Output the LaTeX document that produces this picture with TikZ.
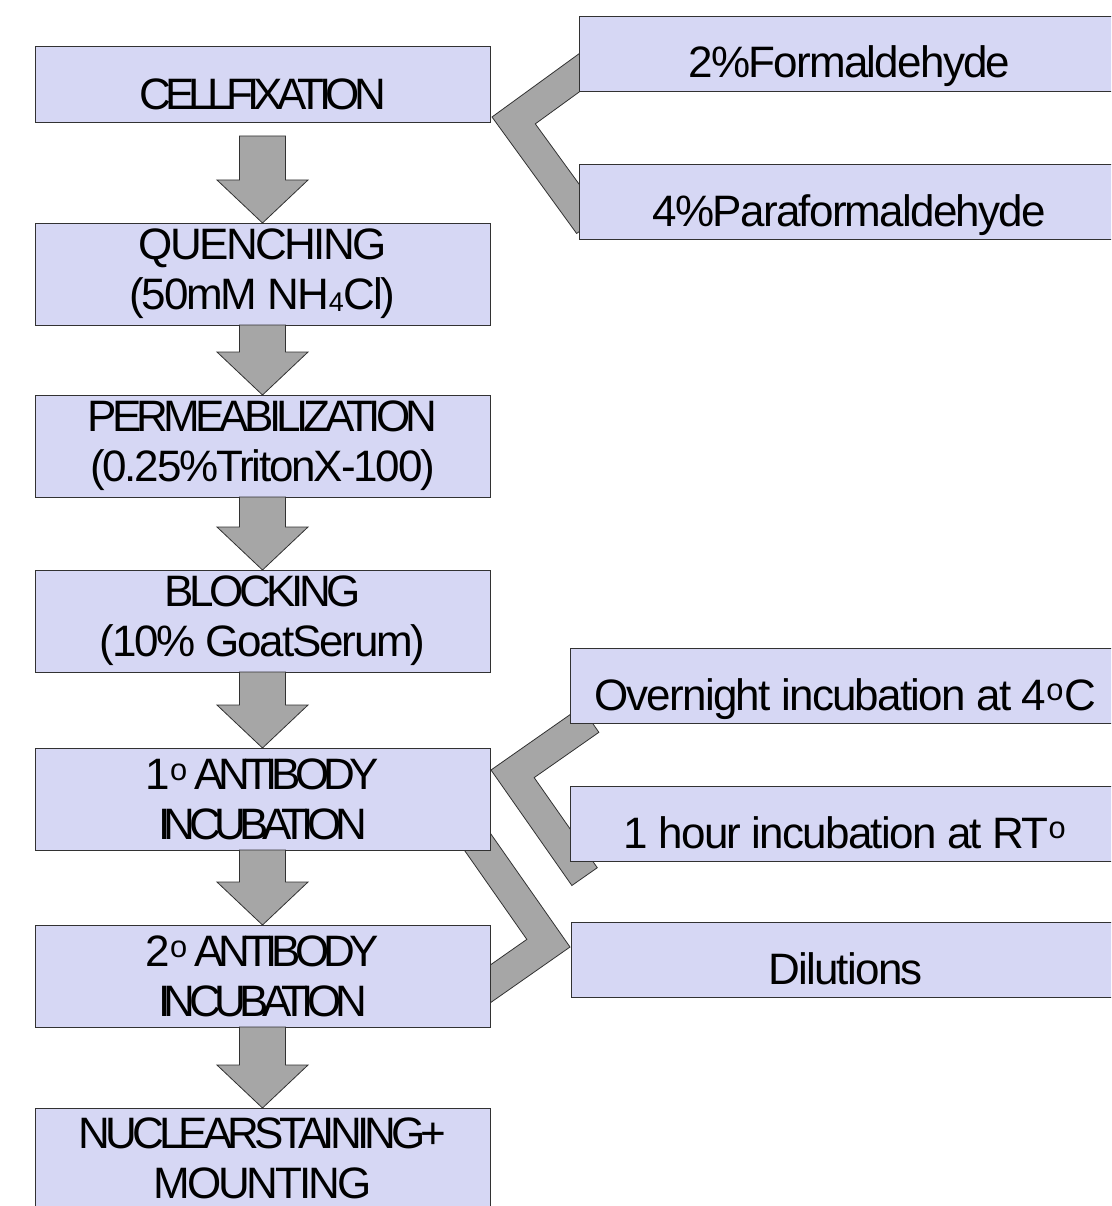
\documentclass[tikz,border=0pt]{standalone}
\usepackage{fontspec}
\setmainfont{Liberation Sans}
\newfontfamily\stepfont[LetterSpace=-11]{Liberation Sans}
\newfontfamily\notefont[LetterSpace=-4]{Liberation Sans}
\usetikzlibrary{calc,backgrounds}

\definecolor{boxfill}{RGB}{214,215,244}
\definecolor{boxline}{RGB}{50,50,50}
\definecolor{arrowfill}{RGB}{166,166,166}

% local letter spacing for one line
\newcommand\tr[2]{{\addfontfeatures{LetterSpace=#1}#2}}
% small index that stays near the baseline
\newcommand\lowidx[1]{\raisebox{-2pt}{\fontsize{27pt}{27pt}\selectfont #1}}

% grey block arrow from one step down to the next
\newcommand\flowarrow[3][0]{%
  \draw[arrowbody] ($(#2.south)+(-23,#1)$) -- ($(#3.north)+(-23,-43)$)
    -- ($(#3.north)+(-45.5,-43)$) -- (#3.north) -- ($(#3.north)+(45.5,-43)$)
    -- ($(#3.north)+(23,-43)$) -- ($(#2.south)+(23,#1)$) -- cycle;}

% bent grey band: apex, first arm (angle, length), second arm (angle, length)
\newcommand\chevron[5]{%
  \draw[arrowbody] (#1) -- ++(#2:#3) -- ++(#4:31)
    -- ($(#1)+(#2:31)+(#4:31)$) -- ($(#1)+(#4:#5)+(#2:31)$)
    -- ($(#1)+(#4:#5)$) -- cycle;}

\tikzset{
  stepbox/.style={draw=boxline, fill=boxfill, line width=0.8pt, anchor=north west,
    minimum width=455pt, minimum height=102pt, inner sep=0pt, outer sep=0pt,
    align=center, font={\stepfont\fontsize{44pt}{50pt}\selectfont}},
  notebox/.style={draw=boxline, fill=boxfill, line width=0.8pt, anchor=north west,
    minimum height=75pt, inner sep=0pt, outer sep=0pt,
    text height=62pt, text depth=13pt, font={\notefont\fontsize{44pt}{50pt}\selectfont}},
  arrowbody/.style={draw=boxline, fill=arrowfill, line width=0.8pt, line join=miter},
}

\begin{document}
\begin{tikzpicture}[x=1pt, y=-1pt]
  \clip (0,0) rectangle (1111,1206);

  % main steps
  \node[stepbox, minimum height=76pt, text height=64pt, text depth=12pt] (fix) at (35,46) {\tr{-13}{CELLFIXATION}};
  \node[stepbox] (quench) at (35,223) {\tr{-6}{QUENCHING}\\ \tr{-5}{(50mM NH\lowidx{4}Cl)}};
  \node[stepbox] (perm) at (35,395) {PERMEABILIZATION\\ \tr{-5}{(0.25\%TritonX-100)}};
  \node[stepbox] (block) at (35,570) {\tr{-10}{BLOCKING}\\ \tr{-5}{(10\% GoatSerum)}};
  \node[stepbox] (abone) at (35,748) {\tr{-13}{1\textsuperscript{o} ANTIBODY}\\ \tr{-15}{INCUBATION}};
  \node[stepbox] (abtwo) at (35,925) {\tr{-13}{2\textsuperscript{o} ANTIBODY}\\ \tr{-15}{INCUBATION}};
  \node[stepbox, text height=90pt, text depth=12pt] (nuc) at (35,1108) {NUCLEARSTAINING+\\ \tr{-7}{MOUNTING}};

  % side notes
  \node[notebox, minimum width=541pt] (form) at (579,16) {2\%Formaldehyde};
  \node[notebox, minimum width=541pt] (para) at (579,164) {4\%Paraformaldehyde};
  \node[notebox, minimum width=550pt] (night) at (570,648) {Overnight incubation at 4\textsuperscript{o}C};
  \node[notebox, minimum width=550pt] (hour) at (570,786) {1 hour incubation at RT\textsuperscript{o}};
  \node[notebox, minimum width=549pt] (dil) at (571,922) {Dilutions};

  % arrows
  \flowarrow[14]{fix}{quench}
  \flowarrow{quench}{perm}
  \flowarrow{perm}{block}
  \flowarrow{block}{abone}
  \flowarrow{abone}{abtwo}
  \flowarrow{abtwo}{nuc}

  % bands behind the boxes
  \begin{scope}[on background layer]
    \chevron{$(fix.south east)+(2,-5)$}{-36}{110}{54}{144}
    \chevron{$(abone.north east)+(1,22)$}{-35}{110}{55}{141}
    \chevron{$(dil.north west)+(-1,25)$}{235}{165}{145}{125}
  \end{scope}
\end{tikzpicture}
\end{document}
